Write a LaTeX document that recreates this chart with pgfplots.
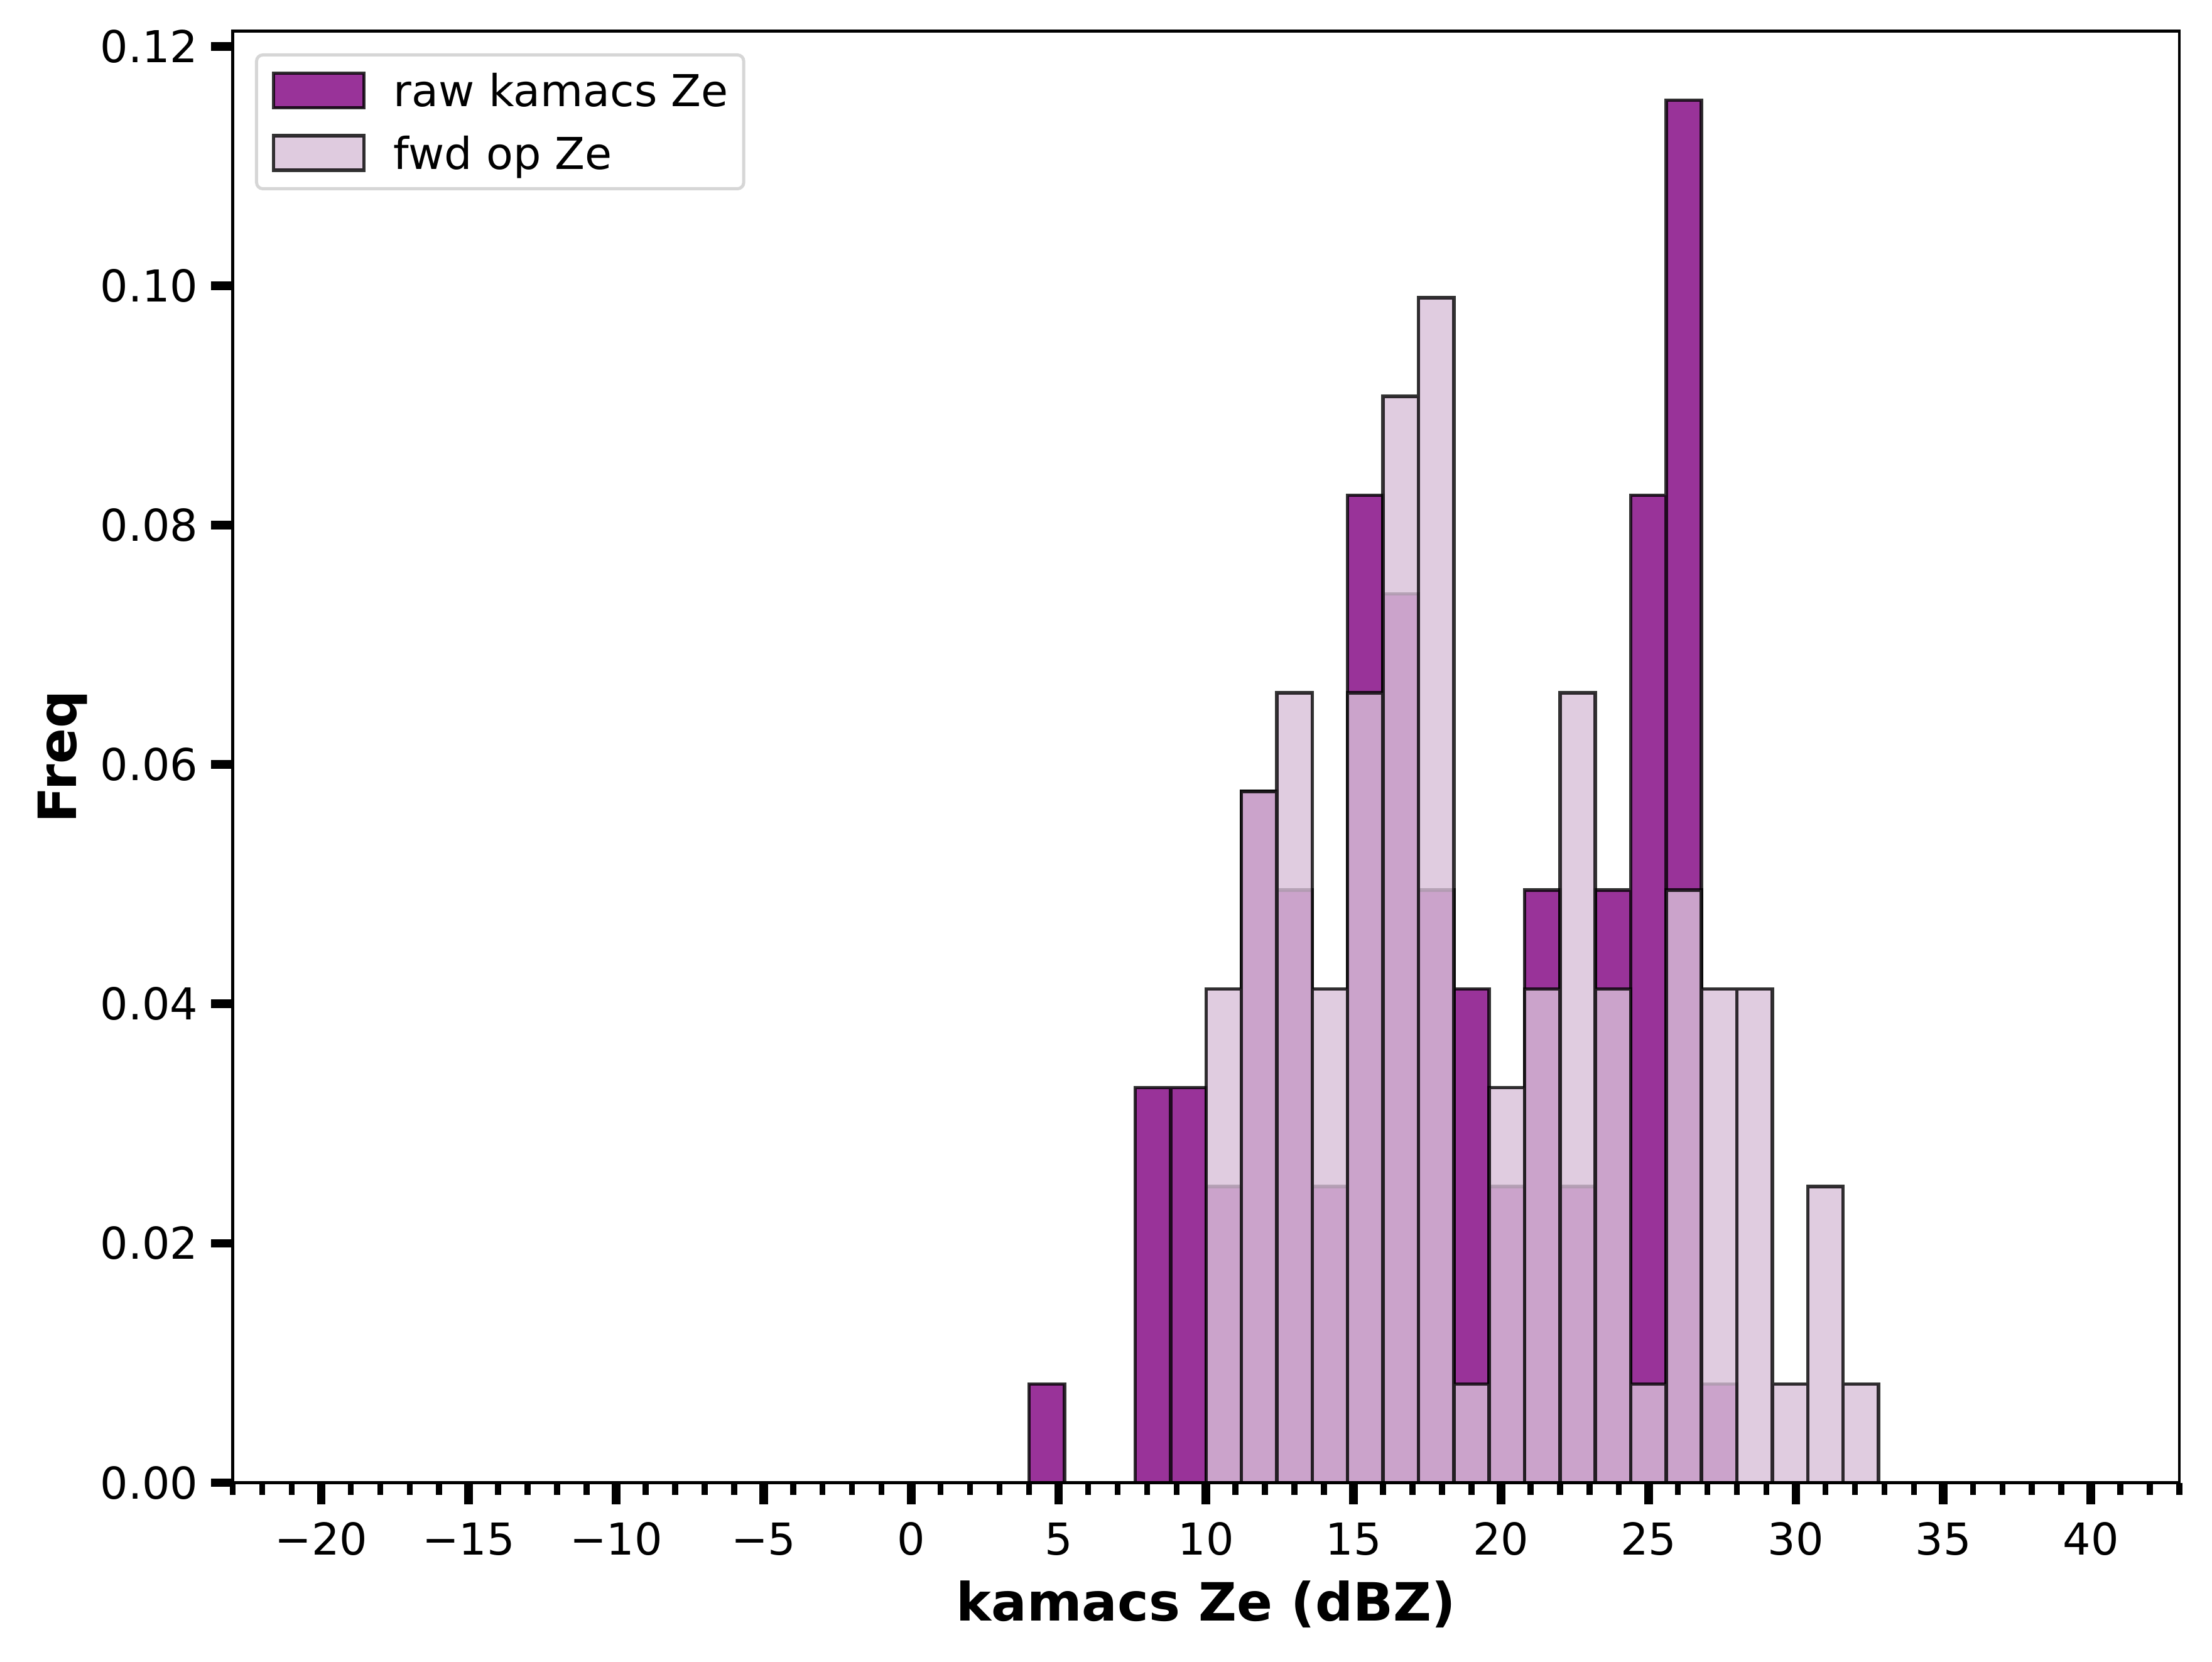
\documentclass[border=0pt]{standalone}
\usepackage{fontspec}
\setmainfont{DejaVu Sans}
\usepackage{pgfplots}
\pgfplotsset{compat=1.18}
\usepackage{pgfplotstable}

\definecolor{rawc}{RGB}{128,0,128}
\definecolor{fwdc}{RGB}{216,191,216}
\definecolor{legframe}{RGB}{214,214,214}

% bin centres (bins of width 1.2 from 4.0 to 32.8), density values
\pgfplotstableread{
x y
4.6 0.008251
8.2 0.033003
9.4 0.033003
10.6 0.024752
11.8 0.057756
13.0 0.049505
14.2 0.024752
15.4 0.082508
16.6 0.074257
17.8 0.049505
19.0 0.041254
20.2 0.024752
21.4 0.049505
22.6 0.024752
23.8 0.049505
25.0 0.082508
26.2 0.115512
27.4 0.008251
}\rawdata

\pgfplotstableread{
x y
10.6 0.041254
11.8 0.057756
13.0 0.066007
14.2 0.041254
15.4 0.066007
16.6 0.090759
17.8 0.099010
19.0 0.008251
20.2 0.033003
21.4 0.041254
22.6 0.066007
23.8 0.041254
25.0 0.008251
26.2 0.049505
27.4 0.041254
28.6 0.041254
29.8 0.008251
31.0 0.024752
32.2 0.008251
}\fwddata

\begin{document}
\begin{tikzpicture}
\begin{axis}[
  scale only axis,
  width=619.9bp, height=462.2bp,
  xmin=-23, xmax=43, ymin=0, ymax=0.12129,
  axis on top,
  xtick={-20,-15,...,40},
  xticklabels={−20,−15,−10,−5,0,5,10,15,20,25,30,35,40},
  minor xtick={-23,-22,...,43},
  ytick={0,0.02,0.04,0.06,0.08,0.10,0.12},
  yticklabels={0.00,0.02,0.04,0.06,0.08,0.10,0.12},
  tick pos=left,
  tick align=outside,
  major tick length=6.8bp, minor tick length=3.9bp,
  every major tick/.append style={line width=2.75bp, black},
  every minor tick/.append style={line width=1.9bp, black},
  axis line style={line width=0.95bp, black},
  ticklabel style={font=\fontsize{14bp}{16.8bp}\selectfont, inner sep=0pt, text height=10.2bp, text depth=0pt},
  xticklabel style={anchor=north, yshift=-5.8bp},
  yticklabel style={anchor=east, xshift=-4bp},
  xlabel={kamacs Ze (dBZ)}, ylabel={Freq},
  label style={font=\fontsize{16.8bp}{20bp}\selectfont\bfseries},
  x label style={at={(axis description cs:0.5,-0.0952)}, anchor=base},
  y label style={at={(axis description cs:-0.0802,0.5)}, anchor=base},
  legend cell align=left,
  legend style={at={(axis description cs:0,1)}, anchor=north west,
    xshift=7.1bp, yshift=-7.1bp,
    draw=legframe, line width=1bp, rounded corners=2bp, fill=white,
    font=\fontsize{14bp}{16.8bp}\selectfont,
    inner xsep=4.9bp, inner ysep=5.3bp, row sep=7.8bp, column sep=8.9bp,
    nodes={inner sep=0pt, text height=10.2bp, text depth=0pt}},
]
\addplot[ybar, bar width=1.2, bar shift=0pt, fill=rawc, fill opacity=0.8,
  draw=black, draw opacity=0.8, line width=1.1bp,
  legend image code/.code={\draw[sharp corners, fill=rawc, fill opacity=0.8, draw=black, draw opacity=0.8, line width=1.1bp] (0bp,-5.5bp) rectangle (28.8bp,5.5bp);}]
  table[x=x,y=y]{\rawdata};
\addlegendentry{raw kamacs Ze}
\addplot[ybar, bar width=1.2, bar shift=0pt, fill=fwdc, fill opacity=0.8,
  draw=black, draw opacity=0.8, line width=1.1bp,
  legend image code/.code={\draw[sharp corners, fill=fwdc, fill opacity=0.8, draw=black, draw opacity=0.8, line width=1.1bp] (0bp,-5.5bp) rectangle (28.8bp,5.5bp);}]
  table[x=x,y=y]{\fwddata};
\addlegendentry{fwd op Ze}
\end{axis}
\pgfresetboundingbox
\path ([shift={(-74.1bp,-57.1bp)}]current axis.south west) rectangle ([shift={(10.4bp,9.9bp)}]current axis.north east);
\end{tikzpicture}
\end{document}
